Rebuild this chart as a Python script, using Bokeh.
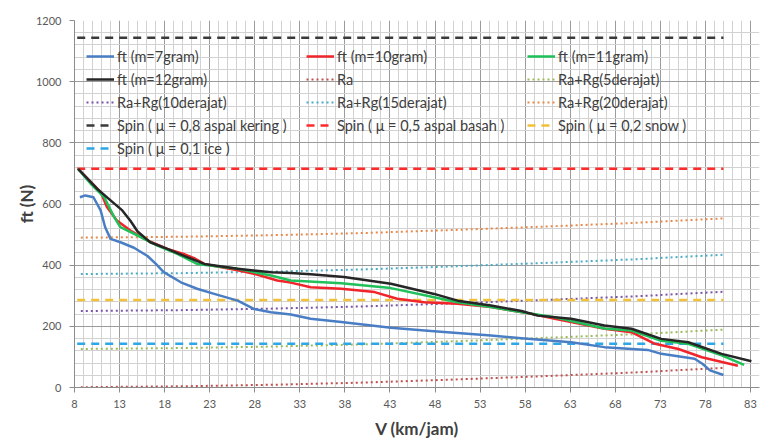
from bokeh.plotting import figure
from bokeh.models import FixedTicker, Legend, LegendItem
from bokeh.embed import file_html
from bokeh.resources import INLINE

# ---- data ----
x_m7 = [8.6, 9.2, 10.1, 10.9, 11.4, 12.0, 13.1, 14.6, 16.1, 17.0, 17.9, 19.8, 21.6, 23.5, 26.1, 27.9,
        29.8, 32.0, 34.2, 37.6, 43.1, 47.9, 54.2, 57.6, 63.1, 66.8, 71.6, 73.1, 76.8, 77.7, 78.5, 80.0]
y_m7 = [622, 628, 622, 579, 524, 486, 475, 457, 430, 405, 377, 344, 323, 306, 284, 257,
        246, 239, 225, 214, 195, 184, 170, 161, 148, 132, 123, 110, 94, 77, 56, 41]

x_m10 = [8.4, 10.9, 11.6, 12.7, 14.2, 16.1, 18.3, 20.1, 21.4, 22.4, 26.1, 27.9, 30.5, 32.0, 34.2,
         37.6, 41.3, 43.8, 46.8, 50.5, 54.2, 58.7, 61.3, 66.8, 69.8, 72.4, 75.0, 77.6, 81.6]
y_m10 = [715, 639, 590, 546, 513, 481, 453, 437, 421, 404, 383, 372, 350, 343, 328,
         323, 312, 290, 279, 274, 263, 241, 225, 192, 181, 143, 126, 99, 71]

x_m11 = [8.4, 9.8, 11.3, 12.4, 13.1, 15.0, 17.2, 19.4, 21.6, 26.1, 29.8, 32.0, 37.6, 43.1, 47.9,
         50.5, 54.2, 58.7, 61.3, 66.8, 69.8, 73.1, 76.1, 79.8, 82.3]
y_m11 = [715, 666, 622, 557, 524, 497, 464, 437, 404, 388, 366, 350, 341, 325, 295,
         279, 263, 241, 230, 193, 186, 153, 143, 105, 74]

x_m12 = [8.4, 10.5, 12.0, 13.3, 14.2, 15.0, 16.4, 18.3, 20.5, 22.4, 26.1, 29.8, 32.0, 34.2, 37.9, 43.1,
         47.9, 50.5, 54.2, 57.6, 59.4, 63.1, 66.8, 69.8, 73.1, 76.1, 79.8, 83.1]
y_m12 = [715, 650, 612, 579, 545, 510, 475, 453, 426, 404, 388, 377, 374, 370, 361, 339,
         306, 284, 268, 250, 235, 225, 203, 192, 159, 148, 110, 86]

x_res = [8.7, 20, 30, 40, 50, 60, 70, 80]
y_ra = [1, 4, 9, 16, 26, 37, 49, 64]
y_rg5 = [126, 129, 134, 141, 151, 162, 174, 189]
y_rg10 = [250, 253, 258, 265, 275, 286, 298, 313]
y_rg15 = [371, 374, 379, 386, 396, 407, 419, 434]
y_rg20 = [490, 493, 498, 505, 515, 526, 538, 553]

x_spin = [8.3, 80]
spin_08 = [1144, 1144]
spin_05 = [715, 715]
spin_02 = [286, 286]
spin_01 = [143, 143]

x_ticks = [8, 13, 18, 23, 28, 33, 38, 43, 48, 53, 58, 63, 68, 73, 78, 83]
y_ticks = [0, 200, 400, 600, 800, 1000, 1200]

FONT = "Lato"

p = figure(width=773, height=448, output_backend="svg", toolbar_location=None,
           x_range=(8, 84), y_range=(0, 1200))
p.min_border_left = 74
p.min_border_right = 14
p.min_border_top = 20
p.min_border_bottom = 61
p.outline_line_color = None
p.background_fill_color = "white"
p.border_fill_color = "white"

p.xaxis.ticker = FixedTicker(ticks=x_ticks, minor_ticks=list(range(8, 85)))
p.yaxis.ticker = FixedTicker(ticks=y_ticks, minor_ticks=list(range(0, 1201, 40)))
p.xgrid.ticker = p.xaxis.ticker
p.ygrid.ticker = p.yaxis.ticker
for g in (p.xgrid, p.ygrid):
    g.grid_line_color = "#9c9c9c"
    g.grid_line_width = 1
    g.minor_grid_line_color = "#d2d2d2"
    g.minor_grid_line_width = 1

for ax in (p.xaxis, p.yaxis):
    ax.axis_line_color = "#8c8c8c"
    ax.major_tick_line_color = "#8c8c8c"
    ax.major_tick_out = 5
    ax.major_tick_in = 0
    ax.minor_tick_line_color = None
    ax.major_label_text_font = FONT
    ax.major_label_text_font_size = "11px"
    ax.major_label_text_color = "#595959"
    ax.axis_label_text_font = FONT
    ax.axis_label_text_font_style = "bold"
    ax.axis_label_text_font_size = "17px"
    ax.axis_label_text_color = "#404040"

p.xaxis.axis_label = "V (km/jam)"
p.yaxis.axis_label = "ft (N)"
p.xaxis.major_label_standoff = 7
p.xaxis.axis_label_standoff = 7
p.yaxis.major_label_standoff = 8
p.yaxis.axis_label_standoff = -4

# dotted resistance lines
DOT = "2 3"
r_ra = p.line(x_res, y_ra, line_color="#C0504D", line_width=2, line_dash=DOT)
r_rg5 = p.line(x_res, y_rg5, line_color="#9BBB59", line_width=2, line_dash=DOT)
r_rg10 = p.line(x_res, y_rg10, line_color="#7B54A8", line_width=2, line_dash=DOT)
r_rg15 = p.line(x_res, y_rg15, line_color="#4BACC6", line_width=2, line_dash=DOT)
r_rg20 = p.line(x_res, y_rg20, line_color="#E8894A", line_width=2, line_dash=DOT)

# dashed spin lines
s08 = p.line(x_spin, spin_08, line_color="#3A3A3A", line_width=2.5, line_dash="8 6")
s05 = p.line(x_spin, spin_05, line_color="#FF2A2A", line_width=2.5, line_dash="8 6")
s02 = p.line(x_spin, spin_02, line_color="#F2C13A", line_width=2.5, line_dash="8 6")
s01 = p.line(x_spin, spin_01, line_color="#2EA7E6", line_width=2.5, line_dash="8 6")

# ft curves
f7 = p.line(x_m7, y_m7, line_color="#4A7EC4", line_width=2.5, line_join="round")
f10 = p.line(x_m10, y_m10, line_color="#F0242A", line_width=2.5, line_join="round")
f11 = p.line(x_m11, y_m11, line_color="#20C15A", line_width=2.5, line_join="round")
f12 = p.line(x_m12, y_m12, line_color="#262626", line_width=2.5, line_join="round")

cols = [
    [("ft (m=7gram)", f7), ("ft (m=12gram)", f12), ("Ra+Rg(10derajat)", r_rg10),
     ("Spin ( μ = 0,8 aspal kering )", s08), ("Spin ( μ = 0,1 ice )", s01)],
    [("ft (m=10gram)", f10), ("Ra", r_ra), ("Ra+Rg(15derajat)", r_rg15),
     ("Spin ( μ = 0,5 aspal basah )", s05)],
    [("ft (m=11gram)", f11), ("Ra+Rg(5derajat)", r_rg5), ("Ra+Rg(20derajat)", r_rg20),
     ("Spin ( μ = 0,2 snow )", s02)],
]
xs = [12, 232, 453]
for xo, items in zip(xs, cols):
    n = len(items)
    h = n * 20 + (n - 1) * 3
    top_from_frame_top = 26
    yo = 367 - top_from_frame_top - h
    lg = Legend(items=[LegendItem(label=l, renderers=[r]) for l, r in items],
                location=(xo, yo), orientation="vertical",
                glyph_width=28, glyph_height=20, label_height=20, spacing=3,
                label_standoff=3, padding=0, margin=0,
                border_line_alpha=0, background_fill_alpha=0,
                label_text_font=FONT, label_text_font_size="14.5px",
                label_text_color="#404040")
    p.add_layout(lg, "center")

open("out.html", "w").write(file_html(p, INLINE))
